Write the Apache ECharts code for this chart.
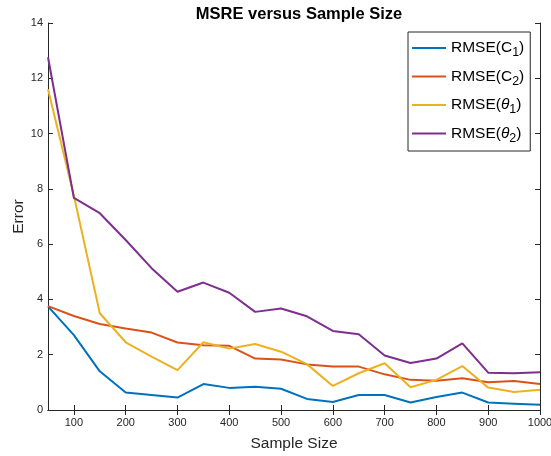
<!DOCTYPE html>
<html>
<head>
<meta charset="utf-8">
<script src="https://cdn.jsdelivr.net/npm/echarts@6/dist/echarts.min.js"></script>
<style>html,body{margin:0;padding:0;background:#fff;}#c{width:551px;height:456px;}</style>
</head>
<body>
<div id="c"></div>
<script>
const sampleSizes = [50,100,150,200,250,300,350,400,450,500,550,600,650,700,750,800,850,900,950,1000];
const rmseC1 = [3.75,2.71,1.40,0.63,0.54,0.45,0.94,0.80,0.84,0.77,0.40,0.29,0.54,0.54,0.27,0.47,0.63,0.27,0.23,0.19];
const rmseC2 = [3.76,3.40,3.11,2.95,2.80,2.44,2.34,2.32,1.86,1.83,1.65,1.57,1.57,1.29,1.09,1.06,1.15,1.00,1.05,0.94];
const rmseT1 = [11.6,7.75,3.50,2.45,1.93,1.44,2.45,2.22,2.39,2.11,1.66,0.87,1.33,1.69,0.82,1.09,1.59,0.81,0.65,0.73];
const rmseT2 = [12.76,7.67,7.12,6.15,5.13,4.28,4.61,4.24,3.55,3.67,3.39,2.86,2.74,1.97,1.70,1.86,2.41,1.35,1.33,1.37];
const xTicks = [100,200,300,400,500,600,700,800,900,1000];
const seriesNames = ['C1','C2','T1','T2'];
const colors = ['#0072BD','#D95319','#EDB120','#7E2F8E'];

const font = 'Liberation Sans, Arial, Helvetica, sans-serif';
const axisColor = '#262626';
const chart = echarts.init(document.getElementById('c'));
const pair = arr => sampleSizes.map((x,i)=>[x,arr[i]]);
const legendText = {
  C1: '{t|RMSE(C}{s|1}{t|)}',
  C2: '{t|RMSE(C}{s|2}{t|)}',
  T1: '{t|RMSE(}{i|θ}{s|1}{t|)}',
  T2: '{t|RMSE(}{i|θ}{s|2}{t|)}'
};
const data = [rmseC1, rmseC2, rmseT1, rmseT2];
chart.setOption({
  animation: false,
  backgroundColor: '#fff',
  title: {
    text: 'MSRE versus Sample Size',
    left: 294, top: 1, textAlign: 'center',
    textStyle: {fontFamily: font, fontSize: 16.5, fontWeight: 'bold', color: '#000'}
  },
  grid: {left: 48, right: 11, top: 23, bottom: 46, containLabel: false, outerBoundsMode: 'none'},
  legend: {
    orient: 'vertical', left: 408, top: 32,
    width: 123,
    padding: [8, 6, 6, 4],
    itemGap: 9,
    itemWidth: 34, itemHeight: 17,
    borderColor: '#262626', borderWidth: 1, backgroundColor: '#fff',
    icon: 'path://M0,7 L34,7 L34,9 L0,9 Z',
    data: seriesNames,
    formatter: n => legendText[n],
    textStyle: {
      fontFamily: font, fontSize: 15, color: '#000',
      rich: {
        t: {fontFamily: font, fontSize: 15.5, color: '#000'},
        i: {fontFamily: font, fontSize: 15.5, fontStyle: 'italic', color: '#000'},
        s: {fontFamily: font, fontSize: 12.5, color: '#000', padding: [10, 0, 0, 0]}
      }
    }
  },
  xAxis: [{
    type: 'value', min: 50, max: 1000,
    name: 'Sample Size', nameLocation: 'middle', nameGap: 26, nameMoveOverlap: false,
    nameTextStyle: {fontFamily: font, fontSize: 15.5, color: axisColor},
    axisLine: {show: true, lineStyle: {color: axisColor, width: 1}},
    axisTick: {show: true, inside: true, length: 5, customValues: xTicks, lineStyle: {color: axisColor}},
    axisLabel: {customValues: xTicks, formatter: v => String(v), fontFamily: font, fontSize: 11, color: axisColor, margin: 7},
    splitLine: {show: false}
  }, {
    type: 'value', min: 50, max: 1000, position: 'top',
    axisLine: {show: true, lineStyle: {color: axisColor, width: 1}},
    axisTick: {show: true, inside: true, length: 5, customValues: xTicks, lineStyle: {color: axisColor}},
    axisLabel: {show: false},
    splitLine: {show: false}
  }],
  yAxis: [{
    type: 'value', min: 0, max: 14, interval: 2,
    name: 'Error', nameLocation: 'middle', nameGap: 21, nameMoveOverlap: false,
    nameTextStyle: {fontFamily: font, fontSize: 15.5, color: axisColor},
    axisLine: {show: true, lineStyle: {color: axisColor, width: 1}},
    axisTick: {show: true, inside: true, length: 5, lineStyle: {color: axisColor}},
    axisLabel: {fontFamily: font, fontSize: 11, color: axisColor, margin: 5},
    splitLine: {show: false}
  }, {
    type: 'value', min: 0, max: 14, interval: 2, position: 'right',
    axisLine: {show: true, lineStyle: {color: axisColor, width: 1}},
    axisTick: {show: true, inside: true, length: 5, lineStyle: {color: axisColor}},
    axisLabel: {show: false},
    splitLine: {show: false}
  }],
  series: seriesNames.map((n, k) => ({
    name: n, type: 'line', data: pair(data[k]),
    showSymbol: false, symbol: 'none',
    lineStyle: {width: 2, color: colors[k]},
    itemStyle: {color: colors[k]},
    z: 2 + k
  }))
});
</script>
</body>
</html>
